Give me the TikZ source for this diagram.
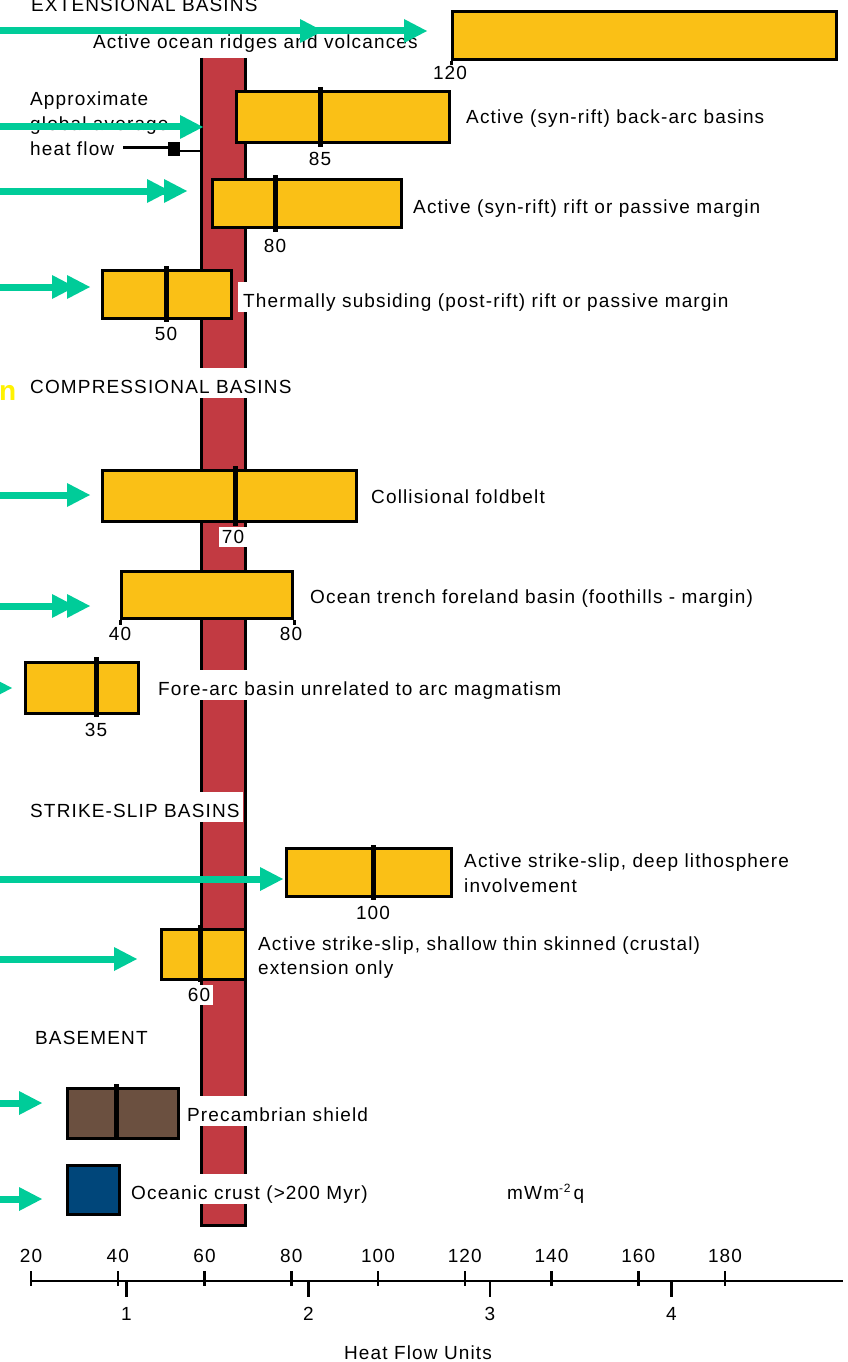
\documentclass[tikz,border=0pt]{standalone}
\usepackage{fontspec}
\setmainfont{Liberation Sans}[LetterSpace=6]
\definecolor{boxy}{RGB}{250,192,22}
\definecolor{barr}{RGB}{194,58,66}
\definecolor{grn}{RGB}{0,204,153}
\definecolor{brn}{RGB}{107,80,64}
\definecolor{nvy}{RGB}{0,70,122}
\definecolor{yel}{RGB}{255,242,0}
\newcommand\lf{\fontsize{19}{25}\selectfont}
\newcommand\garr[2]{%
  \draw[draw=grn,line width=7pt] (-10,#1) -- ({#2-20},#1);
  \fill[grn] ({#2-23},{#1-12}) -- (#2,#1) -- ({#2-23},{#1+12}) -- cycle;}
\tikzset{
  hbox/.style={draw=black, line width=3pt, fill=boxy, inner sep=0pt, anchor=north west},
  med/.style={draw=black, line width=5pt},
  lbl/.style={inner sep=0pt, anchor=base west, font=\lf},
  num/.style={inner sep=0pt, anchor=base, font=\lf},
  wlbl/.style={lbl, fill=white, inner xsep=3pt, inner ysep=0pt, text height=25pt, text depth=5pt},
  wnum/.style={num, fill=white, inner xsep=3pt, inner ysep=0pt, text height=16pt, text depth=4pt},
  axl/.style={draw=black, line width=2.5pt},
}
\begin{document}
\begin{tikzpicture}[x=1pt,y=-1pt]
\useasboundingbox (0,0) rectangle (847,1362);
% average heat flow band
\path[fill=barr,draw=black,line width=3pt] (201.5,58) -- (201.5,1225) -- (245.5,1225) -- (245.5,58);
\coordinate (barw) at (201.5,151);

% labels with white background
\node[wlbl] (comp) at (27,393) {COMPRESSIONAL BASINS};
\node[wlbl] (strike) at (27,817) {STRIKE-SLIP BASINS};
\node[wlbl, inner xsep=5pt] (thermtxt) at (238,307) {Thermally subsiding (post-rift) rift or passive margin};
\node[wlbl] (foretxt) at (155,695) {Fore-arc basin unrelated to arc magmatism};
\node[wlbl] (pretxt) at (184,1121) {Precambrian shield};
\node[wlbl] (octxt) at (128,1199) {Oceanic crust (>200 Myr)};

% boxes
\node[hbox, minimum width=384pt, minimum height=48pt] (ridge) at (451,10) {};
\draw[line width=3pt] (ridge.south west) -- ++(0,4);
\node[hbox, minimum width=213pt, minimum height=51pt] (backarc) at (235,90) {};
\draw[med] (320,87) -- (320,147);
\node[hbox, minimum width=189pt, minimum height=48pt] (rift) at (211,178) {};
\draw[med] (275,175) -- (275,232);
\node[hbox, minimum width=129pt, minimum height=48pt] (therm) at (101,269) {};
\draw[med] (166,266) -- (166,322);
\node[hbox, minimum width=254pt, minimum height=51pt] (coll) at (101,469) {};
\draw[med] (235,466) -- (235,526);
\node[hbox, minimum width=171pt, minimum height=47pt] (trench) at (120,570) {};
\draw[line width=3pt] (trench.south west) -- ++(0,5);
\draw[line width=3pt] (trench.south east) -- ++(0,5);
\node[hbox, minimum width=113pt, minimum height=51pt] (forearc) at (24,661) {};
\draw[med] (96,657) -- (96,717);
\node[hbox, minimum width=165pt, minimum height=48pt] (deep) at (285,847) {};
\draw[med] (373,845) -- (373,900);
\node[hbox, minimum width=84pt, minimum height=50pt] (shallow) at (160,928) {};
\draw[med] (200,925) -- (200,982);
\node[hbox, fill=brn, minimum width=111pt, minimum height=50pt] (precamb) at (66,1087) {};
\draw[med] (116,1084) -- (116,1140);
\node[hbox, fill=nvy, minimum width=52pt, minimum height=49pt] (oceanic) at (66,1164) {};

% numbers
\node[num] (n120) at (450,80) {120};
\node[num] (n85) at (320,165) {85};
\node[num] (n80a) at (275,252) {80};
\node[num] (n50) at (166,340) {50};
\node[wnum] (n70) at (233,543) {70};
\node[num] (n40) at (120,640) {40};
\node[num] (n80b) at (291,640) {80};
\node[num] (n35) at (96,736) {35};
\node[num] (n100) at (373,919) {100};
\node[wnum] (n60) at (199,1001) {60};

% texts
\node[lbl] (ext) at (31,12) {EXTENSIONAL BASINS};
\node[lbl] (ridgetxt) at (93,49) {Active ocean ridges and volcances};
\node[lbl] (ap1) at (30,106) {Approximate};
\node[lbl] (ap2) at (30,131) {global average};
\node[lbl] (ap3) at (30,156) {heat flow};
\node[lbl] (batxt) at (466,124) {Active (syn-rift) back-arc basins};
\node[lbl] (rifttxt) at (413,213) {Active (syn-rift) rift or passive margin};
\node[lbl, font=\fontsize{28}{28}\selectfont\bfseries, text=yel] (nn) at (-1,400) {n};
\node[lbl] (colltxt) at (371,503) {Collisional foldbelt};
\node[lbl] (trtxt) at (310,603) {Ocean trench foreland basin (foothills - margin)};
\node[lbl] (deep1) at (464,867) {Active strike-slip, deep lithosphere};
\node[lbl] (deep2) at (464,892) {involvement};
\node[lbl] (sh1) at (258,950) {Active strike-slip, shallow thin skinned (crustal)};
\node[lbl] (sh2) at (258,974) {extension only};
\node[lbl] (base) at (35,1044) {BASEMENT};
\node[lbl] (unit) at (507,1199) {mWm\raisebox{7pt}{\fontsize{12}{12}\selectfont -2}\,q};

% average heat-flow pointer
\coordinate (hfa) at (123,147);
\draw[line width=3pt] (hfa) -- (170,147);
\fill (168,142) rectangle (180,156);
\draw[line width=1.2pt] (180,151) -- (barw);

% green arrows
\garr{31}{323}
\garr{31}{427}
\garr{127}{203}
\garr{191}{170}
\garr{191}{187}
\garr{287}{75}
\garr{287}{90}
\garr{495}{90}
\garr{606}{75}
\garr{606}{90}
\garr{688}{12}
\garr{879}{283}
\garr{959}{137}
\garr{1103}{42}
\garr{1199}{42}

% axis
\draw[axl] (31,1281) -- (843,1281);
\foreach \k/\v in {0/20,1/40,2/60,3/80,4/100,5/120,6/140,7/160,8/180}{
  \draw[axl] ({31+86.75*\k},1271) -- ({31+86.75*\k},1286);
  \node[num] at ({31+86.75*\k},1262) {\v};
}
\foreach \x/\n in {126.5/1,308.5/2,490/3,671.5/4}{
  \draw[axl] (\x,1281) -- (\x,1297);
  \node[num] at (\x,1320) {\n};
}
\node[num] (hfu) at (418,1359) {Heat Flow Units};
\end{tikzpicture}
\end{document}
